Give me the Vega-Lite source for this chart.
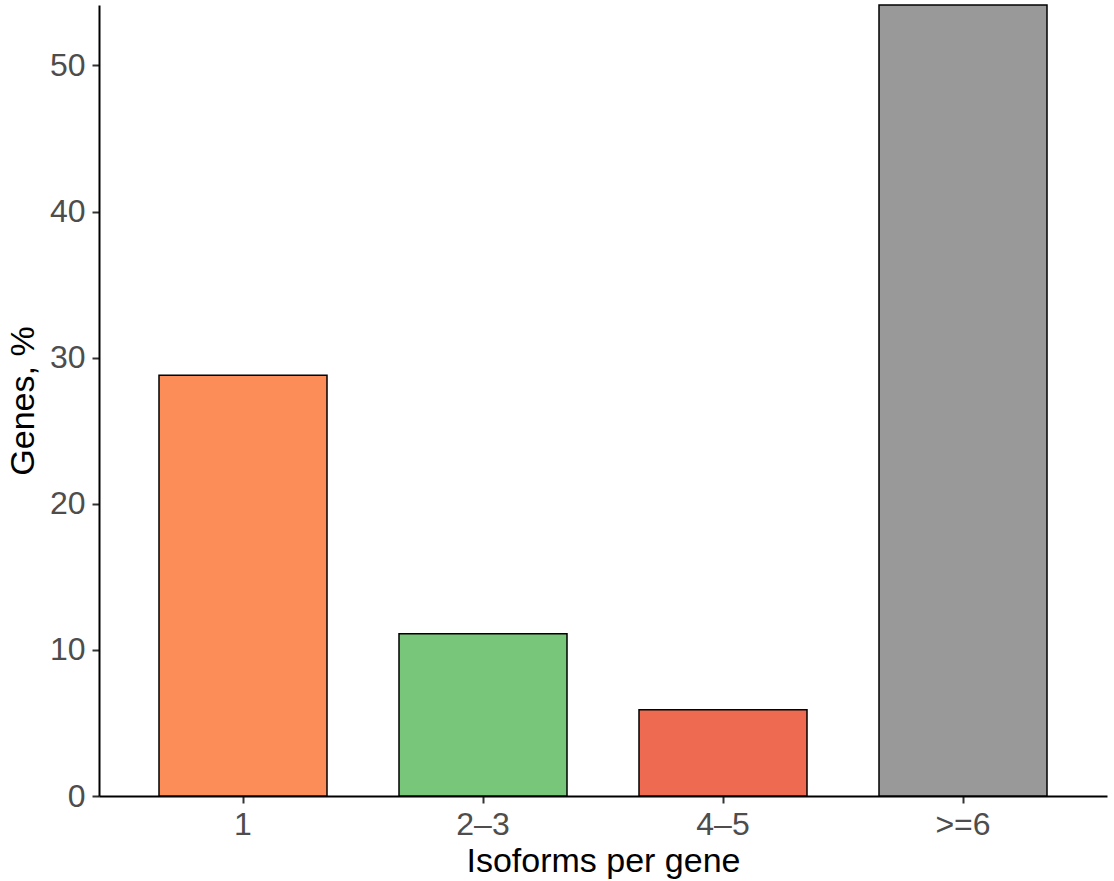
{
  "$schema": "https://vega.github.io/schema/vega-lite/v6.json",
  "width": 1008,
  "height": 791,
  "autosize": "none",
  "padding": {"left": 99, "top": 5, "right": 7, "bottom": 85},
  "background": "white",
  "config": {
    "view": {"stroke": null},
    "font": "Liberation Sans",
    "axis": {
      "grid": false,
      "domainColor": "black",
      "domainWidth": 2,
      "tickColor": "#333333",
      "tickWidth": 2,
      "tickSize": 7,
      "labelColor": "#4D4D4D",
      "labelFont": "Liberation Sans",
      "labelFontSize": 32,
      "titleFont": "Liberation Sans",
      "titleFontSize": 34,
      "titleFontWeight": "normal",
      "titleColor": "black"
    }
  },
  "data": {
    "values": [
      {"isoforms": "1", "genes": 28.8},
      {"isoforms": "2–3", "genes": 11.1},
      {"isoforms": "4–5", "genes": 5.9},
      {"isoforms": ">=6", "genes": 54.14}
    ]
  },
  "mark": {"type": "bar", "stroke": "black", "strokeWidth": 1.5},
  "encoding": {
    "x": {
      "field": "isoforms",
      "type": "nominal",
      "sort": null,
      "title": "Isoforms per gene",
      "scale": {"paddingInner": 0.3, "paddingOuter": 0.25},
      "axis": {"labelAngle": 0, "labelPadding": 6, "titleY": 48, "titleBaseline": "top"}
    },
    "y": {
      "field": "genes",
      "type": "quantitative",
      "title": "Genes, %",
      "scale": {"domain": [0, 54.14], "nice": false, "zero": true},
      "axis": {"values": [0, 10, 20, 30, 40, 50], "labelPadding": 7, "titleX": -66, "titleY": 395.5, "titleBaseline": "alphabetic"}
    },
    "color": {
      "field": "isoforms",
      "type": "nominal",
      "sort": null,
      "legend": null,
      "scale": {"domain": ["1", "2–3", "4–5", ">=6"], "range": ["#FC8D59", "#78C679", "#EE6A51", "#999999"]}
    }
  }
}
